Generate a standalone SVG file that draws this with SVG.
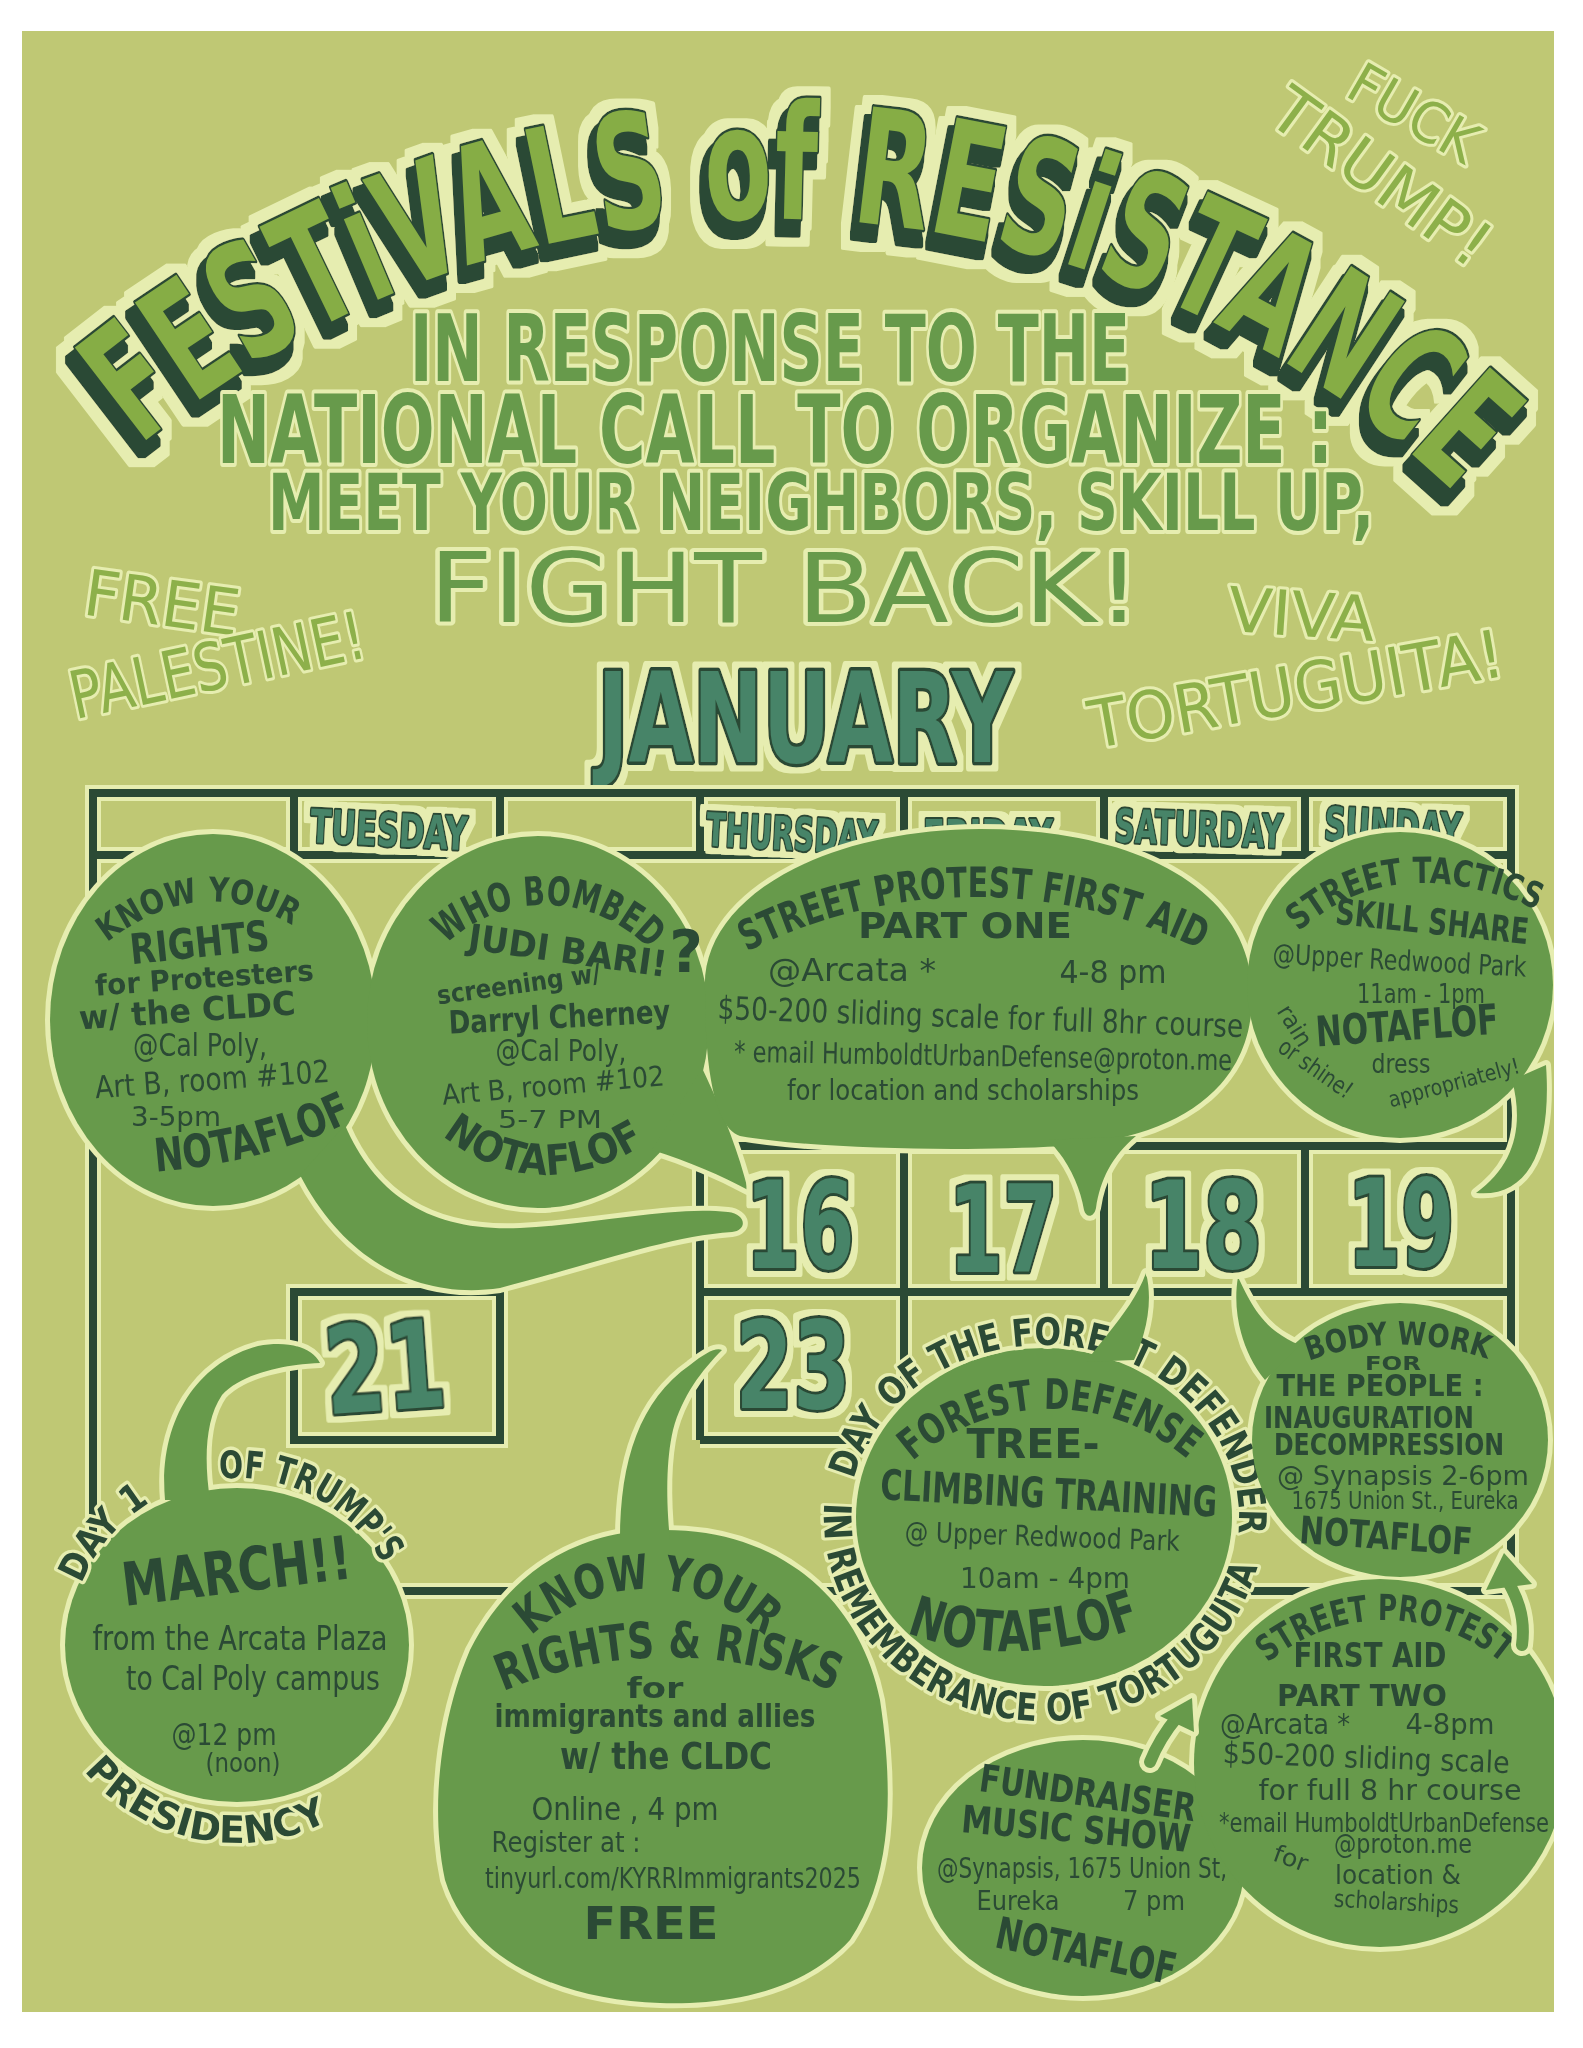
<svg xmlns="http://www.w3.org/2000/svg" width="1583" height="2048" viewBox="0 0 1583 2048">
<defs>
<style>
text{font-family:"DejaVu Sans","Liberation Sans",sans-serif}
.t{fill:#2b4a35;text-anchor:middle}
.hb{font-weight:bold}
.ring{fill:#2b4a35;stroke:#e6edb0;stroke-width:7;paint-order:stroke;stroke-linejoin:round;font-weight:bold;text-anchor:middle}
.sub{fill:#679a4b;stroke:#e6edb0;stroke-width:8;paint-order:stroke;stroke-linejoin:round;text-anchor:middle}
.slog{fill:#8db04a;stroke:#e6edb0;stroke-width:6;paint-order:stroke;stroke-linejoin:round;text-anchor:middle}
.calh{fill:none;stroke:#e6edb0;stroke-width:16}
.cald{fill:none;stroke:#2b4a35;stroke-width:8}
.bo{fill:#e6edb0;stroke:#e6edb0;stroke-width:10;stroke-linejoin:round}
.bf{fill:#679a4b}
.teal{fill:#468468;stroke:#2b4a35;stroke-width:5;stroke-linejoin:round;paint-order:stroke;font-weight:bold;text-anchor:middle}
.tmain{fill:#86ad44;stroke:#2b4a35;stroke-width:5;stroke-linejoin:round;paint-order:stroke}
.arh{fill:none;stroke:#e6edb0;stroke-width:22;stroke-linecap:round}
.arg{fill:none;stroke:#679a4b;stroke-width:12;stroke-linecap:round}
.ahh{fill:#e6edb0;stroke:#e6edb0;stroke-width:10;stroke-linejoin:round}
.ahg{fill:#679a4b}
</style>
<filter id="haloF" filterUnits="userSpaceOnUse" x="0" y="0" width="1583" height="2048">
  <feMorphology in="SourceAlpha" operator="dilate" radius="6" result="d"/>
  <feFlood flood-color="#e6edb0"/>
  <feComposite in2="d" operator="in" result="h"/>
  <feMerge><feMergeNode in="h"/><feMergeNode in="SourceGraphic"/></feMerge>
</filter>
<filter id="titleF" filterUnits="userSpaceOnUse" x="0" y="0" width="1583" height="800">
  <feOffset in="SourceAlpha" dx="-5" dy="13" result="off"/>
  <feMorphology in="off" operator="dilate" radius="3" result="offd"/>
  <feMerge result="both"><feMergeNode in="SourceAlpha"/><feMergeNode in="offd"/></feMerge>
  <feMorphology in="both" operator="dilate" radius="9" result="bd"/>
  <feFlood flood-color="#e6edb0"/>
  <feComposite in2="bd" operator="in" result="h"/>
  <feFlood flood-color="#2b4a35"/>
  <feComposite in2="offd" operator="in" result="sh"/>
  <feMerge><feMergeNode in="h"/><feMergeNode in="sh"/><feMergeNode in="SourceGraphic"/></feMerge>
</filter>
<clipPath id="pc"><rect x="22" y="31" width="1532" height="1981"/></clipPath>
<!-- bubble shapes -->
<ellipse id="sA" cx="213" cy="1020" rx="163" ry="186"/>
<path id="tA" d="M 345 1125 C 375 1195, 430 1232, 520 1228 C 600 1224, 670 1206, 728 1212 C 746 1214, 748 1230, 732 1232 C 670 1236, 600 1262, 500 1288 C 420 1300, 345 1262, 300 1175 Z"/>
<ellipse id="sB" cx="538" cy="1022" rx="171" ry="186"/>
<path id="tB" d="M 652 1150 C 690 1162, 722 1176, 748 1190 C 738 1150, 722 1110, 702 1068 Z"/>
<path id="sC" d="M 705 990 C 700 900, 820 830, 980 829 C 1130 829, 1248 885, 1252 990 C 1255 1080, 1190 1132, 1080 1145 C 980 1152, 820 1150, 740 1136 C 712 1126, 705 1060, 705 990 Z"/>
<path id="tC" d="M 1048 1140 C 1068 1160, 1080 1186, 1084 1210 C 1086 1218, 1094 1218, 1096 1208 C 1100 1180, 1112 1156, 1136 1136 Z"/>
<ellipse id="sD" cx="1400" cy="985" rx="153" ry="153"/>
<path id="tD" d="M 1512 1080 C 1524 1125, 1515 1165, 1476 1193 C 1528 1198, 1552 1150, 1546 1065 Z"/>
<ellipse id="sE" cx="237" cy="1645" rx="172" ry="157"/>
<path id="tE" d="M 165 1500 C 158 1420, 198 1362, 258 1346 C 290 1340, 312 1348, 320 1363 C 290 1364, 243 1372, 222 1395 C 205 1420, 204 1460, 210 1500 Z"/>
<path id="sF" d="M 660 1530 C 780 1528, 860 1600, 880 1700 C 895 1800, 890 1880, 850 1940 C 800 1995, 720 2005, 660 2003 C 560 2000, 470 1960, 445 1880 C 430 1810, 440 1720, 470 1650 C 510 1570, 580 1530, 660 1530 Z"/>
<path id="tF" d="M 620 1540 C 620 1460, 640 1400, 690 1365 C 705 1353, 716 1347, 722 1350 C 702 1370, 682 1396, 673 1430 C 666 1460, 666 1500, 670 1540 Z"/>
<ellipse id="sG" cx="1044" cy="1517" rx="188" ry="169"/>
<path id="tG" d="M 1086 1362 C 1108 1332, 1134 1306, 1146 1273 C 1153 1300, 1147 1332, 1134 1360 Z"/>
<ellipse id="sH" cx="1400" cy="1440" rx="148" ry="137"/>
<path id="tH" d="M 1265 1380 C 1242 1352, 1232 1312, 1238 1277 C 1250 1302, 1262 1330, 1300 1345 Z"/>
<ellipse id="sI" cx="1380" cy="1763" rx="186" ry="184"/>
<ellipse id="sJ" cx="1083" cy="1868" rx="161" ry="128"/>
<!-- text arcs -->
<path id="titleArc" d="M 130 454 A 990 990 0 0 1 1464 502"/>
<path id="arcA1" d="M 100 948 Q 200 865 300 930"/>
<path id="arcA2" d="M 150 1172 Q 260 1165 358 1118"/>
<path id="arcB1" d="M 442.5 947.5 A 145 145 0 0 1 652.8 953"/>
<path id="arcB2" d="M 436 1130 Q 535 1214 652 1140"/>
<path id="arcC1" d="M 735 958 A 504 504 0 0 1 1212 956"/>
<path id="arcD1" d="M 1290 940 Q 1390 840 1548 915"/>
<path id="arcE1" d="M 80.1 1587.9 A 167 167 0 0 1 153.5 1500.4"/>
<path id="arcE2" d="M 216.6 1479.2 A 167 167 0 0 1 384.5 1566.6"/>
<path id="arcE3" d="M 74.8 1758.6 A 198 198 0 0 0 341.9 1812.9"/>
<path id="arcF1" d="M 522.4 1645 A 169 169 0 0 1 773.6 1645"/>
<path id="arcF2" d="M 497 1694 A 420 420 0 0 1 840 1694"/>
<path id="arcG1" d="M 905 1468 A 210 210 0 0 1 1195 1466"/>
<path id="arcG2" d="M 852 1487 A 195 172 0 0 1 1044 1345 A 195 172 0 0 1 1237.1 1540.9"/>
<path id="arcG3" d="M 826 1488.6 A 220 204 0 0 0 1044 1721 A 220 204 0 0 0 1260.7 1552.4"/>
<path id="arcG4" d="M 900 1630 Q 1010 1675 1148 1624"/>
<path id="arcH1" d="M 1306 1362 A 266 266 0 0 1 1490 1360"/>
<path id="arcI1" d="M 1262 1668 A 182 182 0 0 1 1508 1668"/>
</defs>

<rect x="0" y="0" width="1583" height="2048" fill="#ffffff"/>
<rect x="22" y="31" width="1532" height="1981" fill="#bfc874"/>

<g clip-path="url(#pc)">

<!-- TITLE -->
<g id="title" filter="url(#titleF)">
  <text class="tmain" font-size="160" font-weight="bold" text-anchor="middle"><textPath href="#titleArc" startOffset="50%" textLength="1440" lengthAdjust="spacingAndGlyphs">FESTiVALS of RESiSTANCE</textPath></text>
</g>

<!-- SUBTITLE -->
<g id="subtitle">
  <text class="sub" font-weight="bold" x="770" y="381" font-size="92" textLength="720" lengthAdjust="spacingAndGlyphs">IN RESPONSE TO THE</text>
  <text class="sub" font-weight="bold" x="775" y="463" font-size="95" textLength="1116" lengthAdjust="spacingAndGlyphs">NATIONAL CALL TO ORGANIZE :</text>
  <text class="sub" font-weight="bold" x="821" y="530" font-size="78" textLength="1106" lengthAdjust="spacingAndGlyphs">MEET YOUR NEIGHBORS, SKILL UP,</text>
  <text class="sub" x="785" y="622" font-size="97" textLength="712" lengthAdjust="spacingAndGlyphs">FIGHT BACK!</text>
</g>

<g id="slogans">
  <text class="slog" x="159" y="625" font-size="64" textLength="156" lengthAdjust="spacingAndGlyphs" transform="rotate(8 159 625)">FREE</text>
  <text class="slog" x="222" y="688" font-size="66" textLength="300" lengthAdjust="spacingAndGlyphs" transform="rotate(-12 222 688)">PALESTINE!</text>
  <text class="slog" x="1300" y="636" font-size="62" textLength="147" lengthAdjust="spacingAndGlyphs" transform="rotate(4 1300 636)">VIVA</text>
  <text class="slog" x="1300" y="712" font-size="66" textLength="420" lengthAdjust="spacingAndGlyphs" transform="rotate(-10 1300 712)">TORTUGUITA!</text>
  <text class="slog" x="1404" y="130" font-size="56" textLength="140" lengthAdjust="spacingAndGlyphs" transform="rotate(30 1404 130)">FUCK</text>
  <text class="slog" x="1368" y="195" font-size="64" textLength="255" lengthAdjust="spacingAndGlyphs" transform="rotate(36 1368 195)">TRUMP!</text>
</g>

<g id="month" filter="url(#haloF)">
  <text class="teal" style="stroke-width:7" x="805" y="762" font-size="124" textLength="415" lengthAdjust="spacingAndGlyphs">JANUARY</text>
</g>

<!-- CALENDAR -->
<g id="calendar">
  <path class="calh" d="M93 793 H1511 V1591 H93 Z M93 855 H1511 M294 793 V855 M500 793 V855 M700 793 V855 M904 793 V855 M1104 793 V855 M1305 793 V855 M700 1146 H1511 M700 1292 H1511 M700 1146 V1440 M904 1146 V1440 M1104 1146 V1292 M1305 1146 V1292 M700 1440 H904 M294 1292 H500 V1440 H294 Z"/>
  <path class="cald" d="M93 793 H1511 V1591 H93 Z M93 855 H1511 M294 793 V855 M500 793 V855 M700 793 V855 M904 793 V855 M1104 793 V855 M1305 793 V855 M700 1146 H1511 M700 1292 H1511 M700 1146 V1440 M904 1146 V1440 M1104 1146 V1292 M1305 1146 V1292 M700 1440 H904 M294 1292 H500 V1440 H294 Z"/>
  <g id="weekday-labels" filter="url(#haloF)">
    <text class="teal" style="stroke-width:4" font-size="46" x="388" y="846" textLength="157" lengthAdjust="spacingAndGlyphs" transform="rotate(3 388 846)">TUESDAY</text>
    <text class="teal" style="stroke-width:4" font-size="46" x="791" y="850" textLength="171" lengthAdjust="spacingAndGlyphs" transform="rotate(3 791 850)">THURSDAY</text>
    <text class="teal" style="stroke-width:4" font-size="46" x="988" y="853" textLength="130" lengthAdjust="spacingAndGlyphs">FRIDAY</text>
    <text class="teal" style="stroke-width:4" font-size="46" x="1198" y="845" textLength="168" lengthAdjust="spacingAndGlyphs" transform="rotate(2 1198 845)">SATURDAY</text>
    <text class="teal" style="stroke-width:4" font-size="46" x="1392" y="843" textLength="137" lengthAdjust="spacingAndGlyphs" transform="rotate(3 1392 843)">SUNDAY</text>
  </g>
</g>

<!-- bubble outlines (merged silhouette) -->
<g id="bubble-outlines" class="bo">
  <use href="#sA"/><use href="#tA"/><use href="#sB"/><use href="#tB"/><use href="#sC"/><use href="#tC"/><use href="#sD"/><use href="#tD"/>
  <use href="#sE"/><use href="#tE"/><use href="#sF"/><use href="#tF"/><use href="#sG"/><use href="#tG"/><use href="#sH"/><use href="#tH"/><use href="#sJ"/><use href="#sI"/>
</g>

<g id="ev-know-rights-protesters">
  <use href="#sA" class="bf"/><use href="#tA" class="bf"/>
  <text class="t hb" font-size="34"><textPath href="#arcA1" startOffset="50%" textLength="200" lengthAdjust="spacingAndGlyphs">KNOW YOUR</textPath></text>
  <text class="t hb" x="201" y="957" font-size="42" textLength="140" lengthAdjust="spacingAndGlyphs" transform="rotate(-6 201 957)">RIGHTS</text>
  <text class="t hb" x="205" y="988" font-size="29" textLength="219" lengthAdjust="spacingAndGlyphs" transform="rotate(-4 205 988)">for Protesters</text>
  <text class="t hb" x="188" y="1022" font-size="33" textLength="217" lengthAdjust="spacingAndGlyphs" transform="rotate(-4 188 1022)">w/ the  CLDC</text>
  <text class="t" x="200" y="1056" font-size="32" textLength="134" lengthAdjust="spacingAndGlyphs">@Cal Poly,</text>
  <text class="t" x="213" y="1090" font-size="31" textLength="235" lengthAdjust="spacingAndGlyphs" transform="rotate(-4 213 1090)">Art B, room #102</text>
  <text class="t" x="176" y="1126" font-size="27" textLength="90" lengthAdjust="spacingAndGlyphs">3-5pm</text>
  <text class="t hb" font-size="46"><textPath href="#arcA2" startOffset="50%" textLength="205" lengthAdjust="spacingAndGlyphs">NOTAFLOF</textPath></text>
</g>

<g id="ev-who-bombed">
  <use href="#sB" class="bf"/><use href="#tB" class="bf"/>
  <text class="t hb" font-size="40"><textPath href="#arcB1" startOffset="50%" textLength="226" lengthAdjust="spacingAndGlyphs">WHO BOMBED</textPath></text>
  <text class="t hb" x="686" y="972" font-size="58">?</text>
  <text class="t hb" x="566" y="963" font-size="36" textLength="200" lengthAdjust="spacingAndGlyphs" transform="rotate(8 566 963)">JUDI BARI!</text>
  <text class="t hb" x="520" y="993" font-size="26" textLength="165" lengthAdjust="spacingAndGlyphs" transform="rotate(-8 520 993)">screening w/</text>
  <text class="t hb" x="560" y="1028" font-size="32" textLength="222" lengthAdjust="spacingAndGlyphs" transform="rotate(-3 560 1028)">Darryl Cherney</text>
  <text class="t" x="561" y="1061" font-size="30" textLength="131" lengthAdjust="spacingAndGlyphs">@Cal Poly,</text>
  <text class="t" x="554" y="1095" font-size="28" textLength="223" lengthAdjust="spacingAndGlyphs" transform="rotate(-5 554 1095)">Art B, room #102</text>
  <text class="t" x="550" y="1128" font-size="25" textLength="104" lengthAdjust="spacingAndGlyphs">5-7 PM</text>
  <text class="t hb" font-size="42"><textPath href="#arcB2" startOffset="50%" textLength="218" lengthAdjust="spacingAndGlyphs">NOTAFLOF</textPath></text>
</g>

<g id="ev-first-aid-1">
  <use href="#sC" class="bf"/><use href="#tC" class="bf"/>
  <text class="t hb" font-size="42"><textPath href="#arcC1" startOffset="50%" textLength="470" lengthAdjust="spacingAndGlyphs">STREET PROTEST FIRST AID</textPath></text>
  <text class="t hb" x="965" y="938" font-size="36" textLength="214" lengthAdjust="spacingAndGlyphs">PART  ONE</text>
  <text class="t" x="852" y="981" font-size="32" textLength="168" lengthAdjust="spacingAndGlyphs">@Arcata *</text>
  <text class="t" x="1113" y="983" font-size="32" textLength="107" lengthAdjust="spacingAndGlyphs">4-8 pm</text>
  <text class="t" x="980" y="1028" font-size="32" textLength="526" lengthAdjust="spacingAndGlyphs" transform="rotate(2 980 1028)">$50-200 sliding scale for full 8hr course</text>
  <text class="t" x="983" y="1066" font-size="29" textLength="498" lengthAdjust="spacingAndGlyphs" transform="rotate(1 983 1066)">* email HumboldtUrbanDefense@proton.me</text>
  <text class="t" x="963" y="1100" font-size="28" textLength="352" lengthAdjust="spacingAndGlyphs">for location and scholarships</text>
</g>

<g id="ev-street-tactics">
  <use href="#sD" class="bf"/><use href="#tD" class="bf"/>
  <text class="t hb" font-size="36"><textPath href="#arcD1" startOffset="50%" textLength="255" lengthAdjust="spacingAndGlyphs">STREET TACTICS</textPath></text>
  <text class="t hb" x="1431" y="934" font-size="36" textLength="194" lengthAdjust="spacingAndGlyphs" transform="rotate(6 1431 934)">SKILL SHARE</text>
  <text class="t" x="1399" y="970" font-size="28" textLength="254" lengthAdjust="spacingAndGlyphs" transform="rotate(3 1399 970)">@Upper Redwood Park</text>
  <text class="t" x="1421" y="1003" font-size="26" textLength="128" lengthAdjust="spacingAndGlyphs">11am - 1pm</text>
  <text class="t hb" x="1408" y="1040" font-size="42" textLength="183" lengthAdjust="spacingAndGlyphs" transform="rotate(-4 1408 1040)">NOTAFLOF</text>
  <text class="t" x="1288" y="1030" font-size="24" textLength="44" lengthAdjust="spacingAndGlyphs" transform="rotate(58 1288 1030)">rain</text>
  <text class="t" x="1311" y="1075" font-size="24" textLength="85" lengthAdjust="spacingAndGlyphs" transform="rotate(35 1311 1075)">or shine!</text>
  <text class="t" x="1401" y="1073" font-size="26" textLength="59" lengthAdjust="spacingAndGlyphs">dress</text>
  <text class="t" x="1456" y="1090" font-size="22" textLength="135" lengthAdjust="spacingAndGlyphs" transform="rotate(-15 1456 1090)">appropriately!</text>
</g>

<g id="ev-march">
  <use href="#sE" class="bf"/><use href="#tE" class="bf"/>
  <text class="t hb" x="239" y="1592" font-size="60" textLength="230" lengthAdjust="spacingAndGlyphs" transform="rotate(-7 239 1592)">MARCH!!</text>
  <text class="t" x="240" y="1650" font-size="34" textLength="295" lengthAdjust="spacingAndGlyphs">from the Arcata Plaza</text>
  <text class="t" x="253" y="1690" font-size="34" textLength="254" lengthAdjust="spacingAndGlyphs">to Cal Poly campus</text>
  <text class="t" x="224" y="1745" font-size="30" textLength="105" lengthAdjust="spacingAndGlyphs">@12 pm</text>
  <text class="t" x="243" y="1772" font-size="26" textLength="75" lengthAdjust="spacingAndGlyphs">(noon)</text>
  <text class="ring" font-size="38"><textPath href="#arcE1" startOffset="50%" textLength="108" lengthAdjust="spacingAndGlyphs">DAY 1</textPath></text>
  <text class="ring" font-size="38"><textPath href="#arcE2" startOffset="50%" textLength="195" lengthAdjust="spacingAndGlyphs">OF TRUMP'S</textPath></text>
  <text class="ring" font-size="38"><textPath href="#arcE3" startOffset="50%" textLength="270" lengthAdjust="spacingAndGlyphs">PRESIDENCY</textPath></text>
</g>

<g id="ev-know-rights-risks">
  <use href="#sF" class="bf"/><use href="#tF" class="bf"/>
  <text class="t hb" font-size="48"><textPath href="#arcF1" startOffset="50%" textLength="258" lengthAdjust="spacingAndGlyphs">KNOW YOUR</textPath></text>
  <text class="t hb" font-size="50"><textPath href="#arcF2" startOffset="50%" textLength="340" lengthAdjust="spacingAndGlyphs">RIGHTS &amp; RISKS</textPath></text>
  <text class="t hb" x="655" y="1698" font-size="28" textLength="57" lengthAdjust="spacingAndGlyphs">for</text>
  <text class="t hb" x="655" y="1727" font-size="32" textLength="321" lengthAdjust="spacingAndGlyphs">immigrants and allies</text>
  <text class="t hb" x="666" y="1769" font-size="38" textLength="212" lengthAdjust="spacingAndGlyphs">w/ the CLDC</text>
  <text class="t" x="625" y="1820" font-size="32" textLength="187" lengthAdjust="spacingAndGlyphs">Online ,  4 pm</text>
  <text class="t" x="566" y="1852" font-size="28" textLength="149" lengthAdjust="spacingAndGlyphs">Register at :</text>
  <text class="t" x="673" y="1888" font-size="28" textLength="376" lengthAdjust="spacingAndGlyphs">tinyurl.com/KYRRImmigrants2025</text>
  <text class="t hb" x="651" y="1939" font-size="44" textLength="135" lengthAdjust="spacingAndGlyphs">FREE</text>
</g>

<g id="ev-forest-defense">
  <use href="#sG" class="bf"/>
  <text class="ring" font-size="38"><textPath href="#arcG2" startOffset="50%" textLength="555" lengthAdjust="spacingAndGlyphs">DAY OF THE FOREST DEFENDER</textPath></text>
  <text class="ring" font-size="38"><textPath href="#arcG3" startOffset="50%" textLength="630" lengthAdjust="spacingAndGlyphs">IN REMEMBERANCE OF TORTUGUITA</textPath></text>
  <use href="#tG" class="bf"/>
  <text class="t hb" font-size="42"><textPath href="#arcG1" startOffset="50%" textLength="300" lengthAdjust="spacingAndGlyphs">FOREST DEFENSE</textPath></text>
  <text class="t hb" x="1033" y="1458" font-size="40" textLength="133" lengthAdjust="spacingAndGlyphs">TREE-</text>
  <text class="t hb" x="1048" y="1508" font-size="42" textLength="337" lengthAdjust="spacingAndGlyphs" transform="rotate(3 1048 1508)">CLIMBING TRAINING</text>
  <text class="t" x="1042" y="1546" font-size="28" textLength="275" lengthAdjust="spacingAndGlyphs" transform="rotate(2 1042 1546)">@ Upper Redwood Park</text>
  <text class="t" x="1045" y="1588" font-size="28" textLength="170" lengthAdjust="spacingAndGlyphs">10am  -  4pm</text>
  <text class="t hb" font-size="56"><textPath href="#arcG4" startOffset="50%" textLength="240" lengthAdjust="spacingAndGlyphs">NOTAFLOF</textPath></text>
</g>

<g id="ev-body-work">
  <use href="#sH" class="bf"/><use href="#tH" class="bf"/>
  <text class="t hb" font-size="32"><textPath href="#arcH1" startOffset="50%" textLength="182" lengthAdjust="spacingAndGlyphs">BODY WORK</textPath></text>
  <text class="t hb" x="1393" y="1370" font-size="20" textLength="56" lengthAdjust="spacingAndGlyphs">FOR</text>
  <text class="t hb" x="1380" y="1396" font-size="30" textLength="207" lengthAdjust="spacingAndGlyphs">THE PEOPLE :</text>
  <text class="t hb" x="1369" y="1428" font-size="30" textLength="210" lengthAdjust="spacingAndGlyphs">INAUGURATION</text>
  <text class="t hb" x="1389" y="1455" font-size="30" textLength="230" lengthAdjust="spacingAndGlyphs">DECOMPRESSION</text>
  <text class="t" x="1403" y="1485" font-size="26" textLength="252" lengthAdjust="spacingAndGlyphs">@ Synapsis   2-6pm</text>
  <text class="t" x="1405" y="1509" font-size="24" textLength="227" lengthAdjust="spacingAndGlyphs">1675 Union St., Eureka</text>
  <text class="t hb" x="1385" y="1549" font-size="38" textLength="173" lengthAdjust="spacingAndGlyphs" transform="rotate(4 1385 1549)">NOTAFLOF</text>
</g>

<g id="ev-fundraiser">
  <use href="#sJ" class="bf"/>
  <text class="t hb" x="1086" y="1806" font-size="38" textLength="218" lengthAdjust="spacingAndGlyphs" transform="rotate(8 1086 1806)">FUNDRAISER</text>
  <text class="t hb" x="1075" y="1842" font-size="38" textLength="230" lengthAdjust="spacingAndGlyphs" transform="rotate(5 1075 1842)">MUSIC SHOW</text>
  <text class="t" x="1082" y="1878" font-size="28" textLength="290" lengthAdjust="spacingAndGlyphs">@Synapsis, 1675 Union St,</text>
  <text class="t" x="1018" y="1910" font-size="26" textLength="83" lengthAdjust="spacingAndGlyphs">Eureka</text>
  <text class="t" x="1154" y="1910" font-size="26" textLength="62" lengthAdjust="spacingAndGlyphs">7 pm</text>
  <text class="t hb" x="1083" y="1966" font-size="44" textLength="183" lengthAdjust="spacingAndGlyphs" transform="rotate(12 1083 1966)">NOTAFLOF</text>
</g>

<g id="ev-first-aid-2">
  <use href="#sI" class="bf"/>
  <text class="t hb" font-size="36"><textPath href="#arcI1" startOffset="50%" textLength="255" lengthAdjust="spacingAndGlyphs">STREET PROTEST</textPath></text>
  <text class="t hb" x="1370" y="1667" font-size="34" textLength="153" lengthAdjust="spacingAndGlyphs">FIRST AID</text>
  <text class="t hb" x="1362" y="1706" font-size="30" textLength="170" lengthAdjust="spacingAndGlyphs">PART  TWO</text>
  <text class="t" x="1285" y="1734" font-size="28" textLength="130" lengthAdjust="spacingAndGlyphs">@Arcata *</text>
  <text class="t" x="1450" y="1734" font-size="28" textLength="89" lengthAdjust="spacingAndGlyphs">4-8pm</text>
  <text class="t" x="1366" y="1768" font-size="30" textLength="287" lengthAdjust="spacingAndGlyphs" transform="rotate(2 1366 1768)">$50-200 sliding scale</text>
  <text class="t" x="1390" y="1800" font-size="28" textLength="263" lengthAdjust="spacingAndGlyphs">for  full  8 hr course</text>
  <text class="t" x="1384" y="1832" font-size="26" textLength="330" lengthAdjust="spacingAndGlyphs">*email HumboldtUrbanDefense</text>
  <text class="t" x="1403" y="1853" font-size="26" textLength="138" lengthAdjust="spacingAndGlyphs">@proton.me</text>
  <text class="t" x="1288" y="1866" font-size="24" textLength="35" lengthAdjust="spacingAndGlyphs" transform="rotate(20 1288 1866)">for</text>
  <text class="t" x="1398" y="1884" font-size="26" textLength="126" lengthAdjust="spacingAndGlyphs">location &amp;</text>
  <text class="t" x="1396" y="1910" font-size="24" textLength="125" lengthAdjust="spacingAndGlyphs" transform="rotate(3 1396 1910)">scholarships</text>
</g>

<!-- connectors (arrows) -->
<g id="connectors">
  <path class="arh" d="M 1522 1645 C 1526 1615, 1516 1595, 1506 1578"/>
  <path class="arh" d="M 1150 1762 C 1158 1742, 1168 1728, 1178 1716"/>
  <polygon class="ahh" points="1486,1590 1504,1553 1532,1584"/>
  <polygon class="ahh" points="1160,1716 1192,1698 1194,1732"/>
  <path class="arg" d="M 1522 1645 C 1526 1615, 1516 1595, 1506 1578"/>
  <path class="arg" d="M 1150 1762 C 1158 1742, 1168 1728, 1178 1716"/>
  <polygon class="ahg" points="1486,1590 1504,1553 1532,1584"/>
  <polygon class="ahg" points="1160,1716 1192,1698 1194,1732"/>
</g>

<!-- day numbers -->
<g id="day-numbers" filter="url(#haloF)">
  <text class="teal" style="stroke-width:6" font-size="122" x="800" y="1268" textLength="109" lengthAdjust="spacingAndGlyphs">16</text>
  <text class="teal" style="stroke-width:6" font-size="122" x="1003" y="1272" textLength="109" lengthAdjust="spacingAndGlyphs">17</text>
  <text class="teal" style="stroke-width:6" font-size="122" x="1203" y="1268" textLength="118" lengthAdjust="spacingAndGlyphs">18</text>
  <text class="teal" style="stroke-width:6" font-size="122" x="1401" y="1266" textLength="107" lengthAdjust="spacingAndGlyphs">19</text>
  <text class="teal" style="stroke-width:6" font-size="122" x="388" y="1410" textLength="121" lengthAdjust="spacingAndGlyphs" transform="rotate(-4 388 1410)">21</text>
  <text class="teal" style="stroke-width:6" font-size="122" x="793" y="1408" textLength="115" lengthAdjust="spacingAndGlyphs">23</text>
</g>

</g>
</svg>
